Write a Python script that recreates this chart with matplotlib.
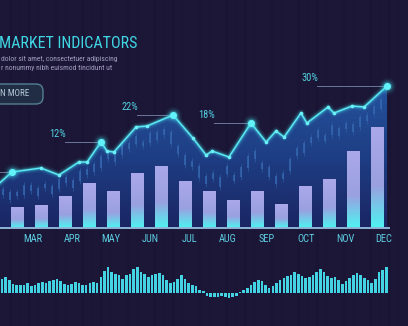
import numpy as np
import matplotlib
matplotlib.use("Agg")
import matplotlib.pyplot as plt
from matplotlib import font_manager
from matplotlib.colors import LinearSegmentedColormap
from matplotlib.patches import Rectangle, Polygon, FancyBboxPatch

# ---- data ----
# monthly bars (height above baseline)
bar_vals = [21, 23, 32, 45, 37, 55, 62, 47, 37, 28, 37, 24, 42, 49, 77, 101]
months = ["MAR", "APR", "MAY", "JUN", "JUL", "AUG", "SEP", "OCT", "NOV", "DEC"]

# trend line (x in bar units)
line_x = [-0.96, -0.21, 1.0, 1.75, 2.58, 2.92, 3.5, 3.75, 4.04, 4.96, 5.42, 6.5, 7.33,
          7.88, 8.13, 8.83, 9.75, 10.38, 10.79, 11.13, 11.83, 12.08, 12.96, 13.21,
          13.96, 14.46, 15.42]
line_y = [40, 56, 60, 53, 66, 66, 86, 77, 76, 101, 102, 113, 90,
          73, 77, 71, 105, 86, 97, 91, 115, 105, 121, 115,
          122, 121, 142]
peaks = [1, 6, 11, 16, 26]
peak_labels = ["", "12%", "22%", "18%", "30%"]
guide_len = [1.2, 1.5, 1.5, 1.55, 2.9]

# candles inside the area (body bottom / top)
candle_x = [-0.58, -0.29, 0.0, 0.29, 0.58, 0.88, 1.17, 1.46, 1.75, 2.04, 2.33, 2.63,
            2.92, 3.21, 3.5, 3.79, 4.08, 4.38, 4.67, 4.96, 5.25, 5.54, 5.83, 6.13,
            6.42, 6.71, 7.0, 7.29, 7.58, 7.88, 8.17, 8.46, 8.75, 9.04, 9.33, 9.63,
            9.92, 10.21, 10.5, 10.79, 11.08, 11.38, 11.67, 11.96, 12.25, 12.54, 12.83,
            13.13, 13.42, 13.71, 14.0, 14.29, 14.58, 14.88, 15.17]
candle_lo = [33, 28, 32, 33, 37, 32, 40, 34, 39, 45, 40, 47, 53, 56, 60, 69, 66, 73,
             79, 84, 82, 85, 88, 93, 84, 74, 63, 61, 50, 44, 49, 41, 54, 47, 51, 60,
             69, 59, 51, 44, 49, 57, 72, 75, 85, 90, 87, 93, 92, 99, 96, 101, 107, 114, 119]
candle_hi = [39, 36, 36, 43, 43, 40, 44, 42, 49, 51, 48, 57, 59, 64, 72, 75, 74, 83,
             85, 92, 86, 95, 96, 99, 96, 82, 73, 67, 62, 52, 55, 51, 62, 53, 61, 72,
             77, 65, 61, 52, 55, 69, 80, 85, 91, 98, 93, 103, 100, 105, 104, 111, 113, 122, 129]

# volume strip at the bottom
volume = [14, 16, 13, 9, 8, 8, 8, 10, 7, 8, 10, 11, 10, 12, 13, 14, 12, 9, 8, 9, 11, 10,
          8, 8, 10, 11,
          10, 16, 22, 26, 21, 19, 18, 14, 18, 19, 24, 26, 21, 19, 16, 18, 19, 20, 18, 13,
          10, 11, 14, 18, 14, 10, 8, 7,
          3, 2.5, -3, -4, -3.5, -4, -3, -4, -5, -3.5, -2.5, 1, 3, 5, 8, 11, 13, 12, 8, 5,
          7, 10, 13, 15, 17, 18, 21, 19,
          17, 15, 16, 18, 21, 24, 21, 17, 15, 16, 13, 9, 12, 15, 18, 20, 18, 15, 13, 10,
          14, 21, 23, 26]

# ---- style ----
BG = "#1c1737"
CYAN = "#45e4f0"

# pick a narrow face if one is installed
fonts = font_manager.fontManager.ttflist
names = {f.name for f in fonts}
NARROW, STRETCH = "DejaVu Sans", "normal"
for cand in ["Roboto Condensed", "Open Sans Condensed", "Liberation Sans Narrow"]:
    if cand in names:
        NARROW = cand
        break
else:
    for f in fonts:
        if f.name in ("DejaVu Sans", "Open Sans", "Roboto", "Noto Sans") and \
                str(f.stretch) in ("condensed", "semi-condensed", "extra-condensed"):
            NARROW, STRETCH = f.name, f.stretch
            break
NF = dict(family=NARROW, fontstretch=STRETCH)

fig = plt.figure(figsize=(4.08, 3.26), dpi=100, facecolor=BG)

# background with faint vertical streaks
bg = fig.add_axes([0, 0, 1, 1])
bg.set_xlim(0, 408)
bg.set_ylim(0, 326)
bg.axis("off")
stripe_a = [0.0, 0.08, 0.03, 0.12, 0.04, 0.0, 0.09, 0.05]
for k, xs in enumerate(range(0, 408, 9)):
    bg.axvspan(xs, xs + 4, color="#0c0920", alpha=stripe_a[k % len(stripe_a)], lw=0)

ax = fig.add_axes([0, 0, 1, 1])
ax.patch.set_alpha(0)
ax.set_xlim(-17 / 24, 391 / 24)
ax.set_ylim(-98, 228)
ax.axis("off")

# area under the trend line with a vertical gradient
xmin, xmax = ax.get_xlim()
poly = Polygon(list(zip(line_x, line_y)) + [(line_x[-1], 0), (line_x[0], 0)],
               closed=True, fc="none", ec="none")
ax.add_patch(poly)
area_cmap = LinearSegmentedColormap.from_list("area", ["#1a2766", "#1f4189", "#2556a4"])
grad = np.linspace(0, 1, 200).reshape(-1, 1)
im = ax.imshow(grad, cmap=area_cmap, origin="lower", aspect="auto",
               extent=(xmin, xmax, 0, 145), zorder=1, alpha=0.95)
im.set_clip_path(poly)

# candles
for cx, lo, hi in zip(candle_x, candle_lo, candle_hi):
    c = ax.vlines(cx, lo - 3, hi + 3, color="#3262a8", lw=0.6, alpha=0.7, zorder=2)
    c.set_clip_path(poly)
    b = ax.bar(cx, hi - lo, bottom=lo, width=0.11, color="#3567b0", alpha=0.8, zorder=2)
    for p in b:
        p.set_clip_path(poly)

# gradient bars
bar_cmap = LinearSegmentedColormap.from_list(
    "bar", [(0, "#4ef4f2"), (0.42, "#9aa0e0"), (1, "#aaa8ea")])
for i, v in enumerate(bar_vals):
    rect = Rectangle((i - 0.26, 0), 0.52, v, fc="none", ec="none")
    ax.add_patch(rect)
    bim = ax.imshow(grad, cmap=bar_cmap, origin="lower", aspect="auto",
                    extent=(i - 0.26, i + 0.26, 0, v), zorder=3)
    bim.set_clip_path(rect)

# baseline
ax.plot([xmin, 15.5], [0, 0], color="#8fb4d8", lw=1.4, zorder=4)

# glowing trend line
for lw, a in [(6, 0.06), (4, 0.12), (2.5, 0.25)]:
    ax.plot(line_x, line_y, color=CYAN, lw=lw, alpha=a, zorder=5, solid_capstyle="round")
ax.plot(line_x, line_y, color="#5ae8f4", lw=1.1, zorder=6)
ax.scatter(line_x, line_y, s=7, color="#6cf0f8", zorder=6, lw=0)

# peaks with guides and labels
for k, pi in enumerate(peaks):
    px, py = line_x[pi], line_y[pi]
    ax.plot([px - guide_len[k], px], [py, py], color="#7d8fb4", lw=0.7, alpha=0.8, zorder=5)
    for s, a in [(150, 0.06), (90, 0.12), (50, 0.25)]:
        ax.scatter(px, py, s=s, color=CYAN, alpha=a, lw=0, zorder=7)
    ax.scatter(px, py, s=26, color="#62f2fa", lw=0, zorder=8)
    if peak_labels[k]:
        ax.text(px - guide_len[k] + 0.05, py + 3, peak_labels[k], ha="right", va="bottom",
                color="#52d2e2", fontsize=7.5, zorder=8, **NF)

# month labels
month_x = 0.667 + 1.625 * np.arange(len(months))
for mx, m in zip(month_x, months):
    ax.text(mx, -11, m, ha="center", va="center", color="#5ccde2", fontsize=7.5, **NF)

# volume strip
vax = fig.add_axes([0, 16 / 326, 1, 60 / 326])
vax.patch.set_alpha(0)
vax.set_xlim(-2 / 3.66, 406 / 3.66)
vax.set_ylim(-17, 43)
vax.axis("off")
vx = np.arange(len(volume))
vax.bar(vx, volume, width=0.72, color="#43d3e3", lw=0)

# header text
fig.text(-0.003, 1 - 43.5 / 326, "MARKET INDICATORS", color="#3fd6e4", fontsize=11.5,
         va="center", ha="left", **NF)
fig.text(0.003, 1 - 59 / 326, "dolor sit amet, consectetuer adipiscing", color="#a29fc2",
         fontsize=5.5, va="center", **NF)
fig.text(0.003, 1 - 68 / 326, "r nonummy nibh euismod tincidunt ut", color="#a29fc2",
         fontsize=5.5, va="center", **NF)

# button
btn = FancyBboxPatch((-20, 326 - 104), 63, 20, boxstyle="round,pad=0,rounding_size=7",
                     fc="#212c45", ec="#557f94", lw=1.0, transform=bg.transData)
bg.add_patch(btn)
bg.text(0, 326 - 94, "N MORE", color="#b6cbd8", fontsize=6.5, va="center", ha="left", **NF)

fig.savefig("out.png", dpi=100, facecolor=BG)
